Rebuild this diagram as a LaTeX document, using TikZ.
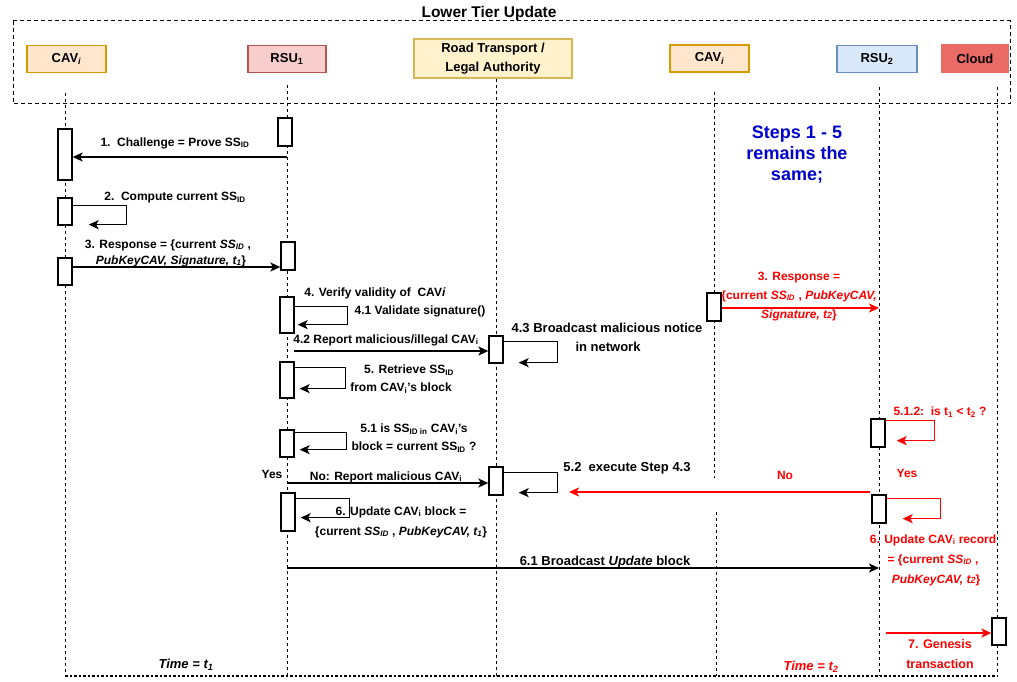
\documentclass[tikz,border=0pt]{standalone}
\usepackage{fontspec}
\setmainfont{Liberation Sans}
\usetikzlibrary{arrows.meta,calc}
\definecolor{cavfill}{HTML}{FFE6CC}
\definecolor{cavdraw}{HTML}{D79B00}
\definecolor{rsufill}{HTML}{F8CECC}
\definecolor{rsudraw}{HTML}{B85450}
\definecolor{rtfill}{HTML}{FFF2CC}
\definecolor{rtdraw}{HTML}{D6B656}
\definecolor{rsubfill}{HTML}{DAE8FC}
\definecolor{rsubdraw}{HTML}{6C8EBF}
\definecolor{cloudfill}{HTML}{EA6B66}
\definecolor{stepblue}{HTML}{0000CC}
\definecolor{msgred}{HTML}{FF0000}
\newcommand\sbs[1]{\textsubscript{#1}}
\begin{document}
\begin{tikzpicture}[x=1pt,y=-1pt,
  every node/.style={font=\bfseries\fontsize{12}{14}\selectfont, inner sep=0pt},
  head/.style={draw, line width=1.4pt, minimum height=27pt, align=center, font=\bfseries\fontsize{13}{15}\selectfont},
  act/.style={draw, line width=1.3pt, fill=white, minimum width=14pt},
  life/.style={dash pattern=on 3pt off 3pt, line width=1pt},
  frame/.style={dash pattern=on 4pt off 3pt, line width=1pt},
  msg/.style={line width=1.6pt, -{Stealth[length=10pt,width=9pt,inset=2.5pt]}},
  rmsg/.style={msg, draw=msgred},
  lbl/.style={align=center},
  rlbl/.style={text=msgred, align=center},
  big/.style={font=\bfseries\fontsize{13}{16}\selectfont}
]
\useasboundingbox (0,0) rectangle (1017,682);

% frame
\node (title) at (489,13) {\fontsize{15.5}{17}\selectfont Lower Tier Update};
\draw[frame] (13,21) rectangle (1010,104);

% headers
\node[head, fill=cavfill, draw=cavdraw, minimum width=79pt] (hc) at (66.5,59) {CAV\sbs{\itshape i}};
\node[head, fill=rsufill, draw=rsudraw, minimum width=78pt] (hr1) at (287,59) {RSU\sbs{1}};
\node[head, fill=rtfill, draw=rtdraw, minimum width=158pt, minimum height=39pt, font=\bfseries\fontsize{13}{19}\selectfont] (hrt) at (493,58.5) {Road Transport /\\Legal Authority};
\node[head, fill=cavfill, draw=cavdraw, minimum width=79pt] (hc2) at (709.5,58.5) {CAV\sbs{\itshape i}};
\node[head, fill=rsubfill, draw=rsubdraw, minimum width=80pt] (hr2) at (877,59) {RSU\sbs{2}};
\node[head, fill=cloudfill, draw=cloudfill, minimum width=66pt] (hcl) at (975,58.5) {Cloud};

% lifelines
\draw[life] (65,93) -- (65,676);
\draw[life] (287,85) -- (287,676);
\draw[life] (hrt.south -| 496,0) -- (496,676);
\draw[life] (714,92) -- (714,478);
\draw[life] (716,512) -- (716,676);
\draw[life] (879,87) -- (879,676);
\draw[life] (997,87) -- (997,676);
\draw[dash pattern=on 2.5pt off 2pt, line width=1.1pt] (65,676) -- (997,676);

% activation boxes
\node[act, minimum height=28pt] (a1) at (285,132) {};
\node[act, minimum height=51pt] (c1) at (65,154.5) {};
\node[act, minimum height=27pt] (c2) at (65,211.5) {};
\node[act, minimum height=27pt] (c3) at (65,271.5) {};
\node[act, minimum height=28pt] (r3) at (288,256) {};
\node[act, minimum height=36pt] (r4) at (287,315) {};
\node[act, minimum height=36pt] (r5) at (287,380) {};
\node[act, minimum height=27pt] (r51) at (287,443.5) {};
\node[act, minimum height=38pt] (r6) at (288,512) {};
\node[act, minimum height=27pt] (t42) at (496,349.5) {};
\node[act, minimum height=28pt] (t52) at (496,481) {};
\node[act, minimum height=28pt] (v3) at (714,307) {};
\node[act, minimum height=28pt] (s512) at (878,433) {};
\node[act, minimum height=28pt] (s6) at (879,509) {};
\node[act, minimum height=27pt] (cl7) at (999,631.5) {};

% coordinates
\coordinate (m1) at (287,157);
\coordinate (y3) at (0,267);
\coordinate (m42) at (294,351);
\coordinate (mno) at (287,483);
\coordinate (m61) at (287,568);
\coordinate (e61) at (879,568);
\coordinate (yr3) at (0,308);
\coordinate (er3) at (879,308);
\coordinate (rno) at (870,492);
\coordinate (rnoe) at (569,492);
\coordinate (m7) at (886,633);

% black messages
\draw[msg] (m1) -- (c1.east |- m1);
\node[lbl] at (175,143) {1.\ \ Challenge = Prove SS\sbs{ID}};

\draw[msg] ([yshift=-8pt]c2.north east) -- ++(54,0) |- ([xshift=16pt,yshift=1pt]c2.south east);
\node[lbl] at (175,198) {2.\ \ Compute current SS\sbs{ID}};

\draw[msg] (c3.east |- y3) -- (r3.west |- y3);
\node[lbl] at (168,245) {3. Response = \{current \textit{SS\sbs{ID}} ,};
\node[lbl] at (171,261) {\textit{PubKeyCAV, Signature, t\sbs{1}}\}};

\draw[msg] ([yshift=-10pt]r4.north east) -- ++(53,0) |- ([xshift=3pt,yshift=9pt]r4.south east);
\node[lbl] at (375,293) {4. Verify validity of\ \ CAV\textit{i}};
\node[lbl] at (420,311) {4.1 Validate signature()};

\draw[msg] (m42) -- (t42.west |- m42);
\node[lbl] at (386,340) {4.2 Report malicious/illegal CAV\sbs{i}};

\draw[msg] ([yshift=-6pt]t42.north east) -- ++(54,0) |- ([xshift=15pt,yshift=1pt]t42.south east);
\node[lbl, big] at (607,328) {4.3 Broadcast malicious notice};
\node[lbl, big] at (608,347) {in network};

\draw[msg] ([yshift=-6pt]r5.north east) -- ++(51,0) |- ([xshift=5pt,yshift=10pt]r5.south east);
\node[lbl] at (409,370) {5. Retrieve SS\sbs{ID}};
\node[lbl] at (401,388) {from CAV\sbs{i}'s block};

\draw[msg] ([yshift=-3pt]r51.north east) -- ++(52,0) |- ([xshift=5pt,yshift=8pt]r51.south east);
\node[lbl] at (414,429) {5.1 is SS\sbs{ID in} CAV\sbs{i}'s};
\node[lbl] at (414,447) {block = current SS\sbs{ID} ?};

\node[lbl] at (272,474) {Yes};
\draw[msg] (mno) -- (t52.west |- mno);
\node[lbl] at (386,477) {No: Report malicious CAV\sbs{i}};

\draw[msg] ([yshift=-6pt]t52.north east) -- ++(54,0) |- ([xshift=15pt,yshift=3pt]t52.south east);
\node[lbl, big] at (627,468) {5.2\ \ execute Step 4.3};

\draw[msg] ([yshift=-6pt]r6.north east) -- ++(54,0) |- ([xshift=5pt,yshift=14pt]r6.south east);
\node[lbl] at (401,512) {6. Update CAV\sbs{i} block =};
\node[lbl] at (401,532) {\{current \textit{SS\sbs{ID}} , \textit{PubKeyCAV, t\sbs{1}}\}};

\draw[msg] (m61) -- (e61);
\node[lbl, big] at (605,562) {6.1 Broadcast \textit{Update} block};

\node[lbl, big] at (186,665) {\textit{Time = t\sbs{1}}};

% right side
\node[lbl, text=stepblue, font=\bfseries\fontsize{18}{21}\selectfont] at (797,155) {Steps 1 - 5\\remains the\\same;};

\draw[rmsg] (v3.east |- yr3) -- (er3);
\node[rlbl] at (799,278) {3. Response =};
\node[rlbl] at (799,296) {\{current \textit{SS\sbs{ID}} , \textit{PubKeyCAV,}};
\node[rlbl] at (799,315) {\textit{Signature, t{\fontsize{9}{9}\selectfont 2}}\}};

\draw[rmsg] ([yshift=-2pt]s512.north east) -- ++(49,0) |- ([xshift=11pt,yshift=7pt]s512.south east);
\node[rlbl] at (940,412) {5.1.2:\ \ is t\sbs{1} < t\sbs{2} ?};

\node[rlbl] at (907,473) {Yes};
\node[rlbl] at (785,475) {No};
\draw[rmsg] (rno) -- (rnoe);

\draw[rmsg] ([yshift=-4pt]s6.north east) -- ++(54,0) |- ([xshift=16pt,yshift=5pt]s6.south east);
\node[rlbl] at (933,540) {6. Update CAV\sbs{i} record};
\node[rlbl] at (933,560) {= \{current \textit{SS\sbs{ID}} ,};
\node[rlbl] at (936,580) {\textit{PubKeyCAV, t{\fontsize{9}{9}\selectfont 2}}\}};

\draw[rmsg] (m7) -- (cl7.west |- m7);
\node[rlbl, font=\bfseries\fontsize{12.5}{14}\selectfont] at (940,644) {7. Genesis};
\node[rlbl, font=\bfseries\fontsize{12.5}{14}\selectfont] at (940,664) {transaction};

\node[rlbl, big] at (811,667) {\textit{Time = t\sbs{2}}};
\end{tikzpicture}
\end{document}
